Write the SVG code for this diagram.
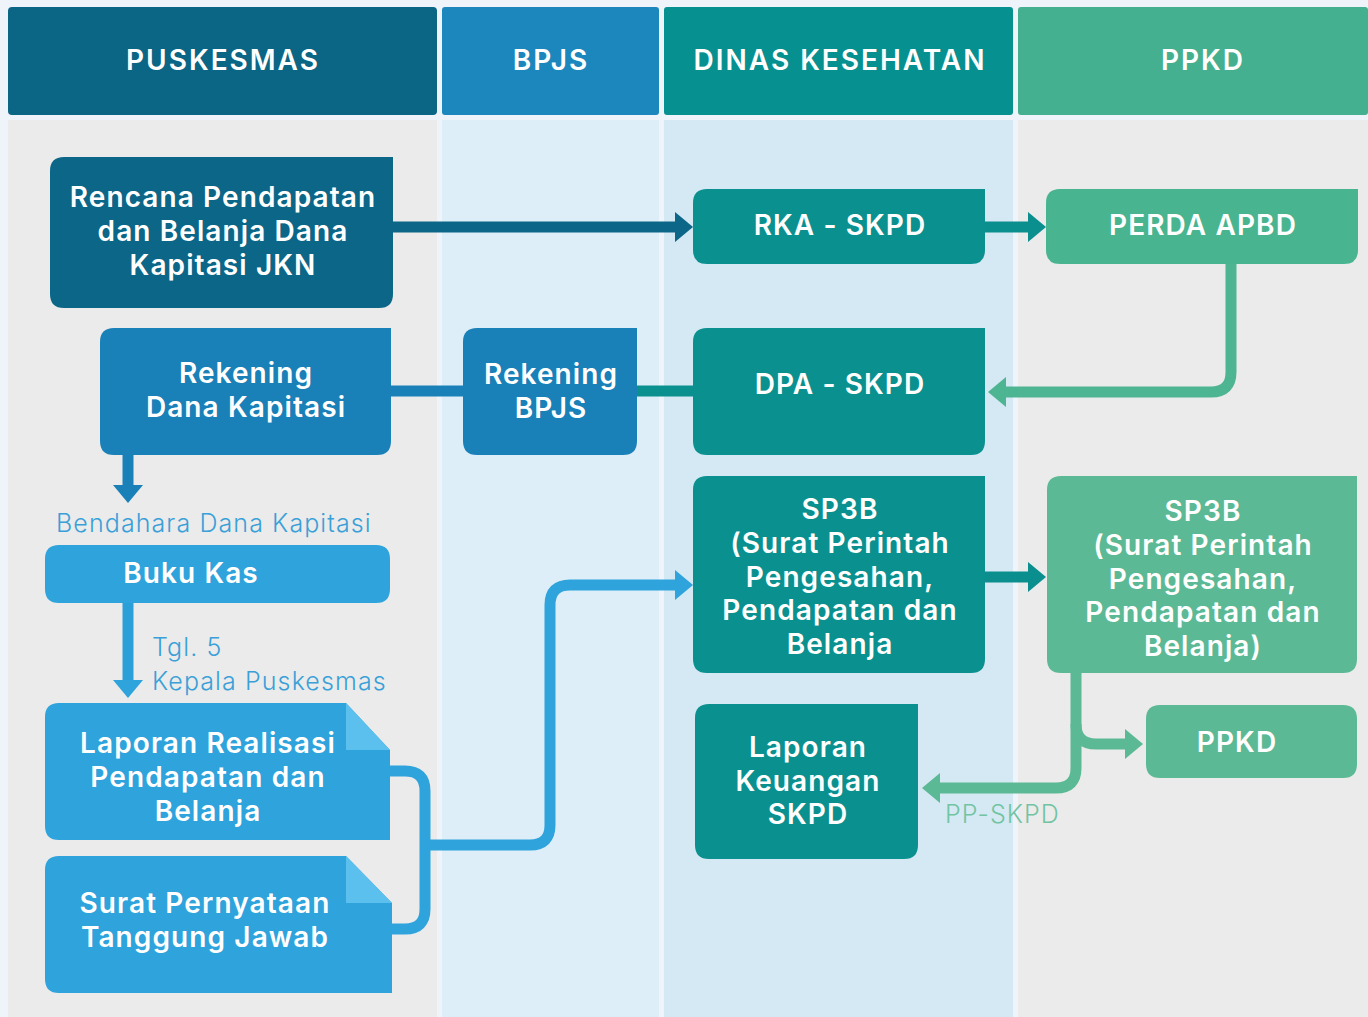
<svg xmlns="http://www.w3.org/2000/svg" width="1368" height="1017" viewBox="0 0 1368 1017">
<style>
.hd{font-family:Inter,"Open Sans","Liberation Sans",sans-serif;font-weight:600;font-size:28px;letter-spacing:2px;fill:#fff;text-anchor:middle}
.nt{font-family:Inter,"Open Sans","Liberation Sans",sans-serif;font-weight:600;font-size:28px;letter-spacing:1.1px;fill:#fff;text-anchor:middle}
.lb{font-family:Inter,"Open Sans","Liberation Sans",sans-serif;font-weight:300;font-size:25px;letter-spacing:1.1px}
.c{fill:none;stroke-width:11}
</style>
<defs>
<marker id="aDark" viewBox="0 0 18 30" refX="8" refY="15" markerWidth="18" markerHeight="30" markerUnits="userSpaceOnUse" orient="auto"><path d="M0,0 L18,15 L0,30 Z" fill="#0c6688"/></marker>
<marker id="aTeal" viewBox="0 0 18 30" refX="8" refY="15" markerWidth="18" markerHeight="30" markerUnits="userSpaceOnUse" orient="auto"><path d="M0,0 L18,15 L0,30 Z" fill="#0a8e8e"/></marker>
<marker id="aGreen" viewBox="0 0 18 30" refX="8" refY="15" markerWidth="18" markerHeight="30" markerUnits="userSpaceOnUse" orient="auto"><path d="M0,0 L18,15 L0,30 Z" fill="#4db592"/></marker>
<marker id="aGreen2" viewBox="0 0 18 30" refX="8" refY="15" markerWidth="18" markerHeight="30" markerUnits="userSpaceOnUse" orient="auto"><path d="M0,0 L18,15 L0,30 Z" fill="#5cb995"/></marker>
<marker id="aBlue" viewBox="0 0 18 30" refX="8" refY="15" markerWidth="18" markerHeight="30" markerUnits="userSpaceOnUse" orient="auto"><path d="M0,0 L18,15 L0,30 Z" fill="#1a80b8"/></marker>
<marker id="aLight" viewBox="0 0 18 30" refX="8" refY="15" markerWidth="18" markerHeight="30" markerUnits="userSpaceOnUse" orient="auto"><path d="M0,0 L18,15 L0,30 Z" fill="#2ea3dc"/></marker>
</defs>
<rect x="0" y="0" width="1368" height="1017" fill="#eef4fa"/>
<g id="lanes">
<rect x="8" y="120" width="429" height="897" fill="#ebebeb"/>
<rect x="442" y="120" width="217" height="897" fill="#ddeef8"/>
<rect x="664" y="120" width="349" height="897" fill="#d4e9f3"/>
<rect x="1018" y="120" width="350" height="897" fill="#ebebeb"/>
</g>
<g id="headers">
<rect x="8" y="7" width="429" height="108" rx="4" fill="#0b6585"/>
<text class="hd" x="223" y="70">PUSKESMAS</text>
<rect x="442" y="7" width="217" height="108" rx="3" fill="#1b87bd"/>
<text class="hd" x="551" y="70">BPJS</text>
<rect x="664" y="7" width="349" height="108" rx="3" fill="#079090"/>
<text class="hd" x="840" y="70">DINAS KESEHATAN</text>
<rect x="1018" y="7" width="350" height="108" rx="3" fill="#45b08f"/>
<text class="hd" x="1203" y="70">PPKD</text>
</g>
<g id="connectors">
<path class="c" stroke="#0c6688" d="M393,227 H683" marker-end="url(#aDark)"/>
<path class="c" stroke="#0a8e8e" d="M985,227 H1036" marker-end="url(#aTeal)"/>
<path class="c" stroke="#4db592" d="M1231,264 V372 Q1231,392 1211,392 H998" marker-end="url(#aGreen)"/>
<path class="c" stroke="#1a80b8" d="M391,391 H463"/>
<path class="c" stroke="#0a918f" d="M637,391 H693"/>
<path class="c" stroke="#1a80b8" d="M128,455 V493" marker-end="url(#aBlue)"/>
<path class="c" stroke="#2a9fd8" d="M128,603 V688" marker-end="url(#aLight)"/>
<path class="c" stroke="#2ea3dc" d="M390,771 H405 Q425,771 425,791 V909 Q425,929 405,929 H392"/>
<path class="c" stroke="#2ea3dc" d="M425,845 H530 Q550,845 550,825 V605 Q550,585 570,585 H683" marker-end="url(#aLight)"/>
<path class="c" stroke="#0a8e8e" d="M985,577 H1036" marker-end="url(#aTeal)"/>
<path class="c" stroke="#5cb995" d="M1076,673 V768 Q1076,788 1056,788 H932" marker-end="url(#aGreen2)"/>
<path class="c" stroke="#5cb995" d="M1076,724 Q1076,744 1096,744 H1133" marker-end="url(#aGreen2)"/>
</g>
<g id="n-rencana">
<path d="M64,157 H393 V294 Q393,308 379,308 H64 Q50,308 50,294 V171 Q50,157 64,157 Z" fill="#0c6688"/>
<text class="nt" x="223" y="207">Rencana Pendapatan</text>
<text class="nt" x="223" y="241">dan Belanja Dana</text>
<text class="nt" x="223" y="275">Kapitasi JKN</text>
</g>
<g id="n-rka">
<path d="M707,189 H985 V250 Q985,264 971,264 H707 Q693,264 693,250 V203 Q693,189 707,189 Z" fill="#0a918f"/>
<text class="nt" x="840" y="235">RKA - SKPD</text>
</g>
<g id="n-perda">
<path d="M1060,189 H1358 V250 Q1358,264 1344,264 H1060 Q1046,264 1046,250 V203 Q1046,189 1060,189 Z" fill="#48b490"/>
<text class="nt" x="1203" y="235">PERDA APBD</text>
</g>
<g id="n-rekdana">
<path d="M114,328 H391 V441 Q391,455 377,455 H114 Q100,455 100,441 V342 Q100,328 114,328 Z" fill="#1a80b8"/>
<text class="nt" x="246" y="383">Rekening</text>
<text class="nt" x="246" y="417">Dana Kapitasi</text>
</g>
<g id="n-rekbpjs">
<path d="M477,328 H637 V441 Q637,455 623,455 H477 Q463,455 463,441 V342 Q463,328 477,328 Z" fill="#1a80b8"/>
<text class="nt" x="551" y="384">Rekening</text>
<text class="nt" x="551" y="418">BPJS</text>
</g>
<g id="n-dpa">
<path d="M707,328 H985 V441 Q985,455 971,455 H707 Q693,455 693,441 V342 Q693,328 707,328 Z" fill="#0a918f"/>
<text class="nt" x="840" y="394">DPA - SKPD</text>
</g>
<g id="n-bendahara">
<text class="lb" x="56" y="532" fill="#3aa0d8">Bendahara Dana Kapitasi</text>
</g>
<g id="n-bukukas">
<path d="M59,545 H376 Q390,545 390,559 V589 Q390,603 376,603 H59 Q45,603 45,589 V559 Q45,545 59,545 Z" fill="#2ea3dc"/>
<text class="nt" x="191" y="583">Buku Kas</text>
</g>
<g id="n-tgl">
<text class="lb" x="152" y="656" fill="#3aa0d8">Tgl. 5</text>
<text class="lb" x="152" y="690" fill="#3aa0d8">Kepala Puskesmas</text>
</g>
<g id="n-laporan">
<path d="M59,703 H346 L390,750 V840 H59 Q45,840 45,826 V717 Q45,703 59,703 Z" fill="#2ea3dc"/>
<path d="M346,703 L390,750 H346 Z" fill="#5cc0ee"/>
<text class="nt" x="208" y="753">Laporan Realisasi</text>
<text class="nt" x="208" y="787">Pendapatan dan</text>
<text class="nt" x="208" y="821">Belanja</text>
</g>
<g id="n-surat">
<path d="M59,856 H346 L392,903 V993 H59 Q45,993 45,979 V870 Q45,856 59,856 Z" fill="#2ea3dc"/>
<path d="M346,856 L392,903 H346 Z" fill="#5cc0ee"/>
<text class="nt" x="205" y="913">Surat Pernyataan</text>
<text class="nt" x="205" y="947">Tanggung Jawab</text>
</g>
<g id="n-sp3b-dinas">
<path d="M707,476 H985 V659 Q985,673 971,673 H707 Q693,673 693,659 V490 Q693,476 707,476 Z" fill="#0a918f"/>
<text class="nt" x="840" y="519">SP3B</text>
<text class="nt" x="840" y="553">(Surat Perintah</text>
<text class="nt" x="840" y="587">Pengesahan,</text>
<text class="nt" x="840" y="620">Pendapatan dan</text>
<text class="nt" x="840" y="654">Belanja</text>
</g>
<g id="n-sp3b-ppkd">
<path d="M1061,476 H1357 V659 Q1357,673 1343,673 H1061 Q1047,673 1047,659 V490 Q1047,476 1061,476 Z" fill="#5cb995"/>
<text class="nt" x="1203" y="521">SP3B</text>
<text class="nt" x="1203" y="555">(Surat Perintah</text>
<text class="nt" x="1203" y="589">Pengesahan,</text>
<text class="nt" x="1203" y="622">Pendapatan dan</text>
<text class="nt" x="1203" y="656">Belanja)</text>
</g>
<g id="n-ppkd">
<path d="M1160,705 H1343 Q1357,705 1357,719 V764 Q1357,778 1343,778 H1160 Q1146,778 1146,764 V719 Q1146,705 1160,705 Z" fill="#5cb995"/>
<text class="nt" x="1237" y="752">PPKD</text>
</g>
<g id="n-lapkeu">
<path d="M709,704 H918 V845 Q918,859 904,859 H709 Q695,859 695,845 V718 Q695,704 709,704 Z" fill="#0a918f"/>
<text class="nt" x="808" y="757">Laporan</text>
<text class="nt" x="808" y="791">Keuangan</text>
<text class="nt" x="808" y="824">SKPD</text>
</g>
<g id="n-ppskpd">
<text class="lb" x="945" y="823" fill="#72c4a2">PP-SKPD</text>
</g>
</svg>
